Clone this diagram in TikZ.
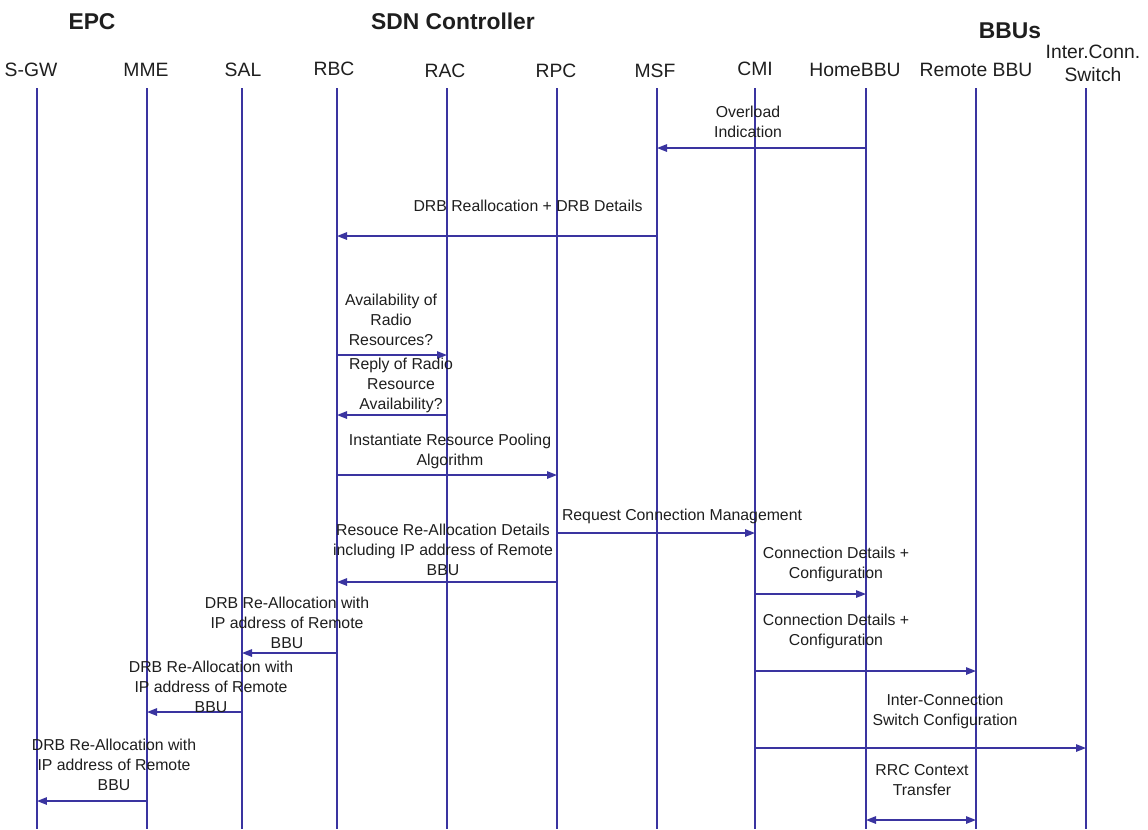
\documentclass[tikz,border=0pt]{standalone}
\usepackage{fontspec}
\setmainfont{Liberation Sans}
\usetikzlibrary{arrows.meta,positioning}
\definecolor{lanecolor}{RGB}{58,52,160}
\definecolor{textgray}{RGB}{30,30,30}

\begin{document}
\begin{tikzpicture}[x=0.02cm, y=-0.02cm,
    party/.style={font=\fontsize{11}{13}\selectfont, text=textgray, align=center, inner sep=0pt},
    group/.style={font=\fontsize{13}{15}\selectfont\bfseries, text=textgray, inner sep=0pt},
    lifeline/.style={draw=lanecolor, line width=0.8pt},
    msg/.style={lifeline, -{Triangle[length=2mm,width=1.5mm]}},
    note/.style={font=\fontsize{9}{11.4}\selectfont, text=textgray, align=center, inner sep=0pt},
]
    \useasboundingbox (0,0) rectangle (1148,829);
    % Groups
    \node[group] (epc) at (92,22) {EPC};
    \node[group] (sdn) at (453,21) {SDN Controller};
    \node[group] (bbus) at (1010,31) {BBUs};
    % Participants and lifelines
    \foreach \n/\x/\lx/\ly/\t in {sgw/37/31/70/S-GW, mme/147/146/70/MME, sal/242/243/70/SAL,
        rbc/337/334/69/RBC, rac/447/445/71/RAC, rpc/557/556/71/RPC, msf/657/655/71/MSF,
        cmi/755/755/69/CMI, homebbu/866/855/70/HomeBBU, remotebbu/976/976/70/Remote BBU,
        switch/1086/1093/63/{Inter.Conn.\\Switch}} {
        \node[party] (\n label) at (\lx,\ly) {\t};
        \coordinate (\n) at (\x,88);
        \coordinate (\n end) at (\x,829);
        \draw[lifeline] (\n) -- (\n end);
    }
    % Messages
    \foreach \a/\b/\y in {homebbu/msf/148, msf/rbc/236, rbc/rac/355, rac/rbc/415,
        rbc/rpc/475, rpc/cmi/533, rpc/rbc/582, cmi/homebbu/594, rbc/sal/653,
        cmi/remotebbu/671, sal/mme/712, cmi/switch/748, mme/sgw/801} {
        \draw[msg] (\a |- 0,\y) -- (\b |- 0,\y);
    }
    \draw[lifeline, {Triangle[length=2mm,width=1.5mm]}-{Triangle[length=2mm,width=1.5mm]}]
        (homebbu |- 0,820) -- (remotebbu |- 0,820);
    % Message texts
    \node[note] (t1) at (748,122) {Overload\\Indication};
    \node[note] (t2) at (528,206) {DRB Reallocation + DRB Details};
    \node[note] (t3) at (391,320) {Availability of\\Radio\\Resources?};
    \node[note] (t4) at (401,385) {Reply of Radio\\Resource\\Availability?};
    \node[note] (t5) at (450,451) {Instantiate Resource Pooling\\Algorithm};
    \node[note] (t6) at (682,516) {Request Connection Management};
    \node[note] (t7) at (443,550) {Resouce Re-Allocation Details\\including IP address of Remote\\BBU};
    \node[note] (t8) at (836,564) {Connection Details +\\Configuration};
    \node[note] (t9) at (287,623) {DRB Re-Allocation with\\IP address of Remote\\BBU};
    \node[note] (t10) at (836,631) {Connection Details +\\Configuration};
    \node[note] (t11) at (211,687) {DRB Re-Allocation with\\IP address of Remote\\BBU};
    \node[note] (t12) at (945,711) {Inter-Connection\\Switch Configuration};
    \node[note] (t13) at (114,765) {DRB Re-Allocation with\\IP address of Remote\\BBU};
    \node[note] (t14) at (922,780) {RRC Context\\Transfer};
\end{tikzpicture}
\end{document}
